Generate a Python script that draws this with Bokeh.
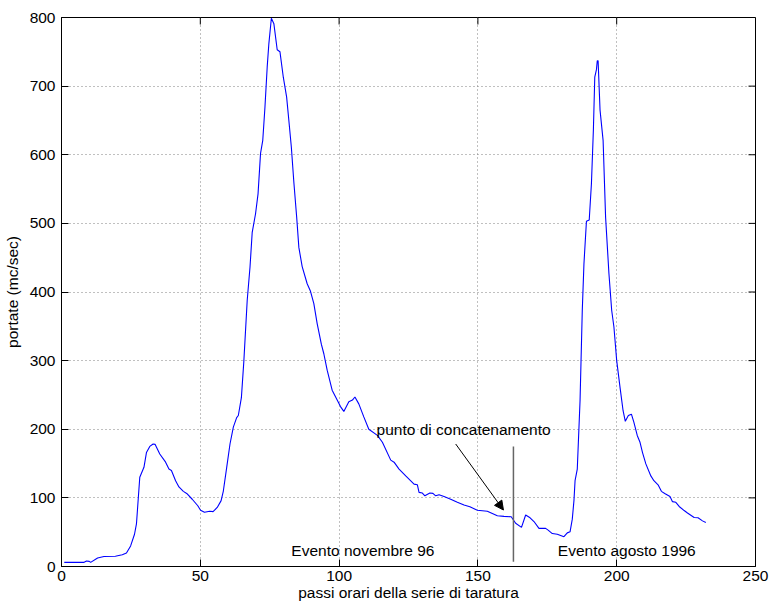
from bokeh.plotting import figure
from bokeh.models import Range1d, Label, Arrow, NormalHead, FixedTicker
from bokeh.embed import file_html
from bokeh.resources import INLINE

# hourly step (x) and discharge (y)
steps = [1, 8, 9, 10, 10.5, 13, 15.3, 19.4, 21.9, 23.4, 24.9, 26.3, 27, 28.2, 29.7, 30.6, 31.8, 33, 33.7,
         35.4, 37.5, 38.7, 39.6, 41.1, 42.3, 43.9, 45.1, 47.1, 49.1, 50.1, 51.5, 53.4, 54.6, 56.1, 57.5,
         58.3, 59.5, 60.7, 61.9, 63.1, 63.7, 64.8, 65.7, 66.9, 67.9, 68.7, 69.9, 70.8, 71.7, 72.5, 73.3,
         74.1, 74.7, 75.6, 76.5, 77.7, 78.7, 79.9, 81.1, 81.9, 82.8, 83.7, 84.7, 85.5, 86.7, 88.5, 89.7,
         90.9, 92.1, 93.6, 94.5, 95.7, 97.5, 99.4, 100.5, 101.7, 103.5, 104.8, 105.7, 107.1, 108.9, 110.7,
         113.8, 115.6, 118.6, 119.8, 121.6, 124, 127, 128.2, 128.8, 130, 130.9, 132.7, 133.8, 134.8, 136,
         137.8, 140.2, 142.6, 145, 147.1, 149.8, 153.4, 157, 159.4, 162, 163.6, 165.7, 167.2, 168.8, 170.2,
         172, 174.4, 175.3, 176.8, 178.6, 181, 182.2, 183.2, 184, 184.6, 185, 185.8, 186.8, 187.6, 188.2,
         189.1, 190.1, 190.9, 191.6, 192.1, 192.7, 193, 193.3, 194, 195.1, 196, 197.2, 198.2, 199, 200,
         201.2, 202.3, 203.1, 204.2, 205.3, 206.2, 207.4, 208.4, 209.3, 210.5, 212.3, 213.4, 214.9, 216.1,
         217.3, 219.2, 220.1, 221.3, 222.5, 224.3, 225.5, 227.9, 229.3, 230.9, 232.1]
portate = [6, 6, 8, 7.5, 6, 12.5, 14.5, 15, 17, 19.6, 30, 47, 62, 130, 144.5, 166, 175, 178.5, 178,
           164, 152, 142, 140, 125, 116, 109.5, 106.5, 98, 88.5, 82, 79, 80.5, 80, 86, 96,
           110, 144, 178.5, 203, 217, 220, 246, 300, 388, 436, 487, 514, 543, 602, 621, 670,
           728, 762, 799, 791, 753, 750, 713, 684, 650, 611, 560, 510, 465, 437, 412, 401,
           383, 354, 324, 310, 286, 257, 242, 233, 226, 240, 242.5, 247, 237, 218, 200,
           191, 181, 155, 152, 142, 132, 120, 119, 108, 107, 103, 107, 106.5, 103, 104.5,
           102, 98, 93.5, 89.5, 87, 82, 80.5, 74, 73, 72.5, 63, 57, 75, 71, 65.5,
           55.5, 55.5, 53, 48, 47, 43.5, 49, 50.5, 69, 96, 125, 142, 242, 373, 441,
           503, 505, 558, 636, 713, 724, 737, 737, 665, 621, 509, 427, 373, 349, 300,
           261, 227, 211.5, 220, 222, 210, 191, 181, 166, 149.5, 132, 125, 119, 109.5,
           106.5, 102, 94.5, 93.5, 87.5, 81.5, 78, 71.5, 71, 66.5, 64]

x_ticks = [0, 50, 100, 150, 200, 250]
y_ticks = [0, 100, 200, 300, 400, 500, 600, 700, 800]
X_MIN, X_MAX = 0, 250
Y_MIN, Y_MAX = 0, 800

concat_x = 162.8
concat_y = [7, 175]

FONT = "Liberation Sans"
FS = "15.5px"

p = figure(width=770, height=605, x_range=Range1d(X_MIN, X_MAX), y_range=Range1d(Y_MIN, Y_MAX),
           output_backend="svg", toolbar_location=None,
           min_border_left=61, min_border_right=15, min_border_top=17, min_border_bottom=39)
p.background_fill_color = "white"
p.border_fill_color = "white"
p.outline_line_color = "black"

for ax in (p.xaxis[0], p.yaxis[0]):
    ax.major_tick_in = 7
    ax.major_tick_out = 0
    ax.minor_tick_line_color = None
    ax.axis_line_color = "black"
    ax.major_tick_line_color = "black"
    ax.major_label_text_font = FONT
    ax.major_label_text_font_size = FS
    ax.major_label_text_color = "black"
    ax.axis_label_text_font = FONT
    ax.axis_label_text_font_size = FS
    ax.axis_label_text_font_style = "normal"
    ax.axis_label_text_color = "black"
p.xaxis.ticker = FixedTicker(ticks=x_ticks)
p.yaxis.ticker = FixedTicker(ticks=y_ticks)
p.xaxis.major_label_standoff = 4
p.yaxis.major_label_standoff = 6
p.yaxis.axis_label = "portate (mc/sec)"
p.yaxis.axis_label_standoff = 6
p.xaxis.axis_label = "passi orari della serie di taratura"
p.xaxis.axis_label_standoff = 0

# inward ticks on the top and right sides of the box
p.ray(x=x_ticks, y=[Y_MAX] * len(x_ticks), length=7, length_units="screen",
      angle=-90, angle_units="deg", line_color="black", line_width=1)
p.ray(x=[X_MAX] * len(y_ticks), y=y_ticks, length=7, length_units="screen",
      angle=180, angle_units="deg", line_color="black", line_width=1)

p.xgrid.ticker = FixedTicker(ticks=x_ticks)
p.ygrid.ticker = FixedTicker(ticks=y_ticks)
for g in (p.xgrid[0], p.ygrid[0]):
    g.grid_line_color = "#808080"
    g.grid_line_dash = "1 3"
    g.grid_line_width = 1

p.line(steps, portate, line_color="#0000ff", line_width=1.1)

p.segment(x0=[concat_x], y0=[concat_y[0]], x1=[concat_x], y1=[concat_y[1]],
          line_color="#666666", line_width=1.5)

p.add_layout(Arrow(end=NormalHead(size=9, fill_color="black", line_color="black"),
                   x_start=142, y_start=178.5, x_end=159.2, y_end=82.3,
                   line_color="black", line_width=1))

def lab(x, y, t):
    p.add_layout(Label(x=x, y=y, text=t, text_font=FONT, text_font_size=FS,
                       text_align="left", text_baseline="middle", text_color="black"))

lab(113.5, 199.4, "punto di concatenamento")
lab(82.8, 23.3, "Evento novembre 96")
lab(178.8, 23.3, "Evento agosto 1996")

open("out.html", "w").write(file_html(p, INLINE))
